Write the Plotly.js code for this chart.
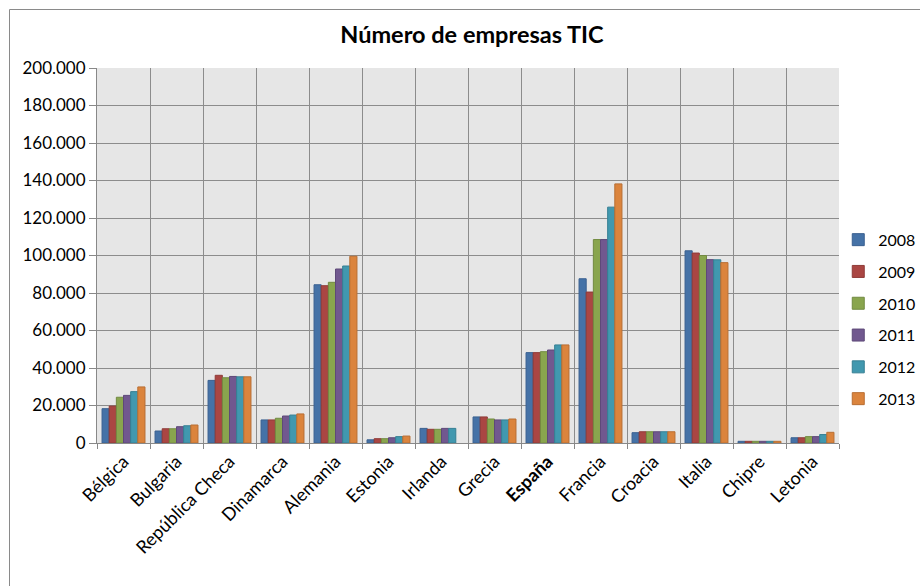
<!DOCTYPE html>
<html>
<head>
<meta charset="utf-8">
<script src="https://cdn.plot.ly/plotly-3.0.1.min.js"></script>
<style>html,body{margin:0;padding:0;background:#fff;}#chart{width:920px;height:586px;}</style>
</head>
<body>
<div id="chart"></div>
<script>
const countries = ["Bélgica","Bulgaria","República Checa","Dinamarca","Alemania","Estonia","Irlanda","Grecia","España","Francia","Croacia","Italia","Chipre","Letonia"];
const tickLabels = ["Bélgica","Bulgaria","República Checa","Dinamarca","Alemania","Estonia","Irlanda","Grecia","<b>España</b>","Francia","Croacia","Italia","Chipre","Letonia"];
const years = ["2008","2009","2010","2011","2012","2013"];
const v2008 = [18300, 6400, 33400, 12300, 84400, 1700, 7800, 13900, 48200, 87600, 5500, 102500, 900, 2800];
const v2009 = [19700, 7600, 36100, 12300, 83900, 2300, 7300, 13900, 48200, 80500, 6000, 101300, 900, 2800];
const v2010 = [24400, 7600, 34800, 13200, 85700, 2300, 7300, 12800, 48700, 108500, 6000, 100000, 900, 3400];
const v2011 = [25400, 8700, 35500, 14400, 92800, 2800, 7800, 12300, 49600, 108500, 6000, 97800, 900, 3400];
const v2012 = [27400, 9200, 35300, 14900, 94400, 3400, 7800, 12300, 52300, 125800, 6000, 97700, 900, 4500];
const v2013 = [29900, 9600, 35300, 15500, 99600, 3700, null, 12800, 52300, 138200, 6000, 96200, 900, 5700];
const series = [v2008, v2009, v2010, v2011, v2012, v2013];
const colors = ["#4572a7","#aa4643","#89a54e","#71588f","#4198af","#db843d"];
const lineColors = ["#3a6090","#8f3b38","#728a41","#5e4978","#367f93","#b86e33"];

const traces = series.map((vals, i) => ({
  type: "bar",
  name: years[i],
  x: countries,
  y: vals,
  legendgroup: years[i],
  marker: {color: colors[i], line: {color: lineColors[i], width: 1}},
  hoverinfo: "x+y+name"
}));

const font = "Lato, 'Open Sans', sans-serif";
const layout = {
  width: 920, height: 586,
  paper_bgcolor: "#ffffff",
  plot_bgcolor: "#e6e6e6",
  separators: ",.",
  margin: {l: 97, r: 81, t: 68, b: 143, autoexpand: false},
  bargap: 0.19,
  bargroupgap: 0,
  title: {text: "<b>Número de empresas TIC</b>", font: {family: font, size: 23.5, color: "#000"}, x: 0.513, xanchor: "center", y: 0.94, yanchor: "middle"},
  font: {family: font, size: 16, color: "#000"},
  showlegend: true,
  legend: {x: 0.999, xanchor: "left", y: 0.33, yanchor: "middle", font: {family: font, size: 16, color: "#000"}, tracegroupgap: 8, itemwidth: 30, bgcolor: "rgba(0,0,0,0)"},
  xaxis: {
    type: "category",
    tickmode: "array",
    tickvals: countries,
    ticktext: tickLabels,
    tickangle: -45,
    tickson: "boundaries",
    ticks: "outside",
    ticklen: 5,
    tickcolor: "#888",
    showgrid: true,
    gridcolor: "#8c8c8c",
    gridwidth: 1,
    showline: true,
    linecolor: "#888",
    linewidth: 1,
    tickfont: {family: font, size: 18, color: "#000"},
    fixedrange: true
  },
  yaxis: {
    range: [0, 200000],
    tick0: 0,
    dtick: 20000,
    tickformat: ",d",
    ticks: "outside",
    ticklen: 7,
    tickcolor: "#888",
    showgrid: true,
    gridcolor: "#8c8c8c",
    gridwidth: 1,
    showline: true,
    linecolor: "#888",
    zeroline: false,
    tickfont: {family: font, size: 17, color: "#000"},
    fixedrange: true
  },
  shapes: [
    {type: "line", xref: "paper", yref: "paper", x0: (9.5-97)/742, x1: (9.5-97)/742, y0: (443-9.5)/375, y1: -0.5, line: {color: "#8a8a8a", width: 1}},
    {type: "line", xref: "paper", yref: "paper", x0: (9.5-97)/742, x1: 1.2, y0: (443-9.5)/375, y1: (443-9.5)/375, line: {color: "#8a8a8a", width: 1}}
  ]
};

Plotly.newPlot("chart", traces, layout, {displayModeBar: false, staticPlot: true});
</script>
</body>
</html>
